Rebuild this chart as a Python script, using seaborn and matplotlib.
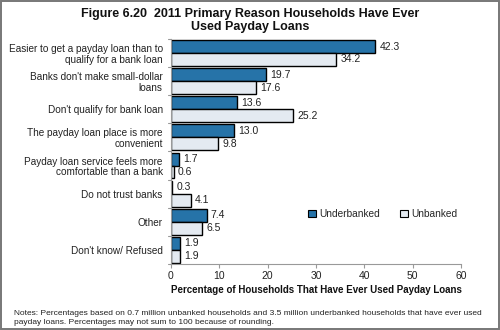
import matplotlib
matplotlib.use("Agg")
import matplotlib.pyplot as plt
import seaborn as sns
import pandas as pd
import numpy as np
from matplotlib.patches import Rectangle

sns.set_theme(style="white")
plt.rcParams["font.family"] = ["Liberation Sans", "DejaVu Sans"]

reasons = [
    "Easier to get a payday loan than to\nqualify for a bank loan",
    "Banks don't make small-dollar\nloans",
    "Don't qualify for bank loan",
    "The payday loan place is more\nconvenient",
    "Payday loan service feels more\ncomfortable than a bank",
    "Do not trust banks",
    "Other",
    "Don't know/ Refused",
]
underbanked = [42.3, 19.7, 13.6, 13.0, 1.7, 0.3, 7.4, 1.9]
unbanked = [34.2, 17.6, 25.2, 9.8, 0.6, 4.1, 6.5, 1.9]
groups = ["Underbanked", "Unbanked"]
colors = ["#2673a8", "#e4eaf1"]

df = pd.DataFrame({
    "reason": reasons * 2,
    "pct": underbanked + unbanked,
    "group": [groups[0]] * len(reasons) + [groups[1]] * len(reasons),
})

fig = plt.figure(figsize=(5.0, 3.3), dpi=100)
ax = fig.add_axes([0.342, 0.20, 0.58, 0.682])

sns.barplot(data=df, y="reason", x="pct", hue="group", order=reasons,
            hue_order=groups, palette=colors, saturation=1, orient="h",
            width=0.92, edgecolor="black", linewidth=1.0, ax=ax, legend=True)

for cont in ax.containers:
    ax.bar_label(cont, fmt="%.1f", padding=3, fontsize=7.5, color="#222222")

ax.set_xlim(0, 60)
ax.set_ylim(len(reasons) - 0.5, -0.5)
ax.set_xticks(np.arange(0, 61, 10))
ax.tick_params(axis="x", labelsize=7.5, length=3, width=0.8, color="#999999",
               direction="out", bottom=True, pad=2, labelcolor="#222222")
ax.set_yticks(np.arange(len(reasons)))
ax.set_yticklabels(reasons, fontsize=7.2, color="#222222", linespacing=1.1)
ax.tick_params(axis="y", length=0, pad=6)
# boundary ticks between categories on the value axis
for b in np.arange(-0.5, len(reasons) + 0.5, 1.0):
    ax.plot([-0.012, 0], [b, b], transform=ax.get_yaxis_transform(),
            color="#999999", lw=0.8, clip_on=False)

for s in ["top", "right"]:
    ax.spines[s].set_visible(False)
for s in ["left", "bottom"]:
    ax.spines[s].set_color("#999999")
    ax.spines[s].set_linewidth(0.8)

ax.set_ylabel("")
ax.set_xlabel("Percentage of Households That Have Ever Used Payday Loans",
              fontsize=7, fontweight="bold", color="#111111", labelpad=3)

leg = ax.legend(loc="upper left", bbox_to_anchor=(0.44, 0.285), ncol=2,
                frameon=False, fontsize=7.3, handlelength=0.8, handleheight=0.8,
                handletextpad=0.3, columnspacing=2.0)
for h in leg.legend_handles:
    h.set_linewidth(0.8)

fig.text(0.5, 0.975, "Figure 6.20  2011 Primary Reason Households Have Ever\nUsed Payday Loans",
         ha="center", va="top", fontsize=9.0, fontweight="bold", color="#111111",
         linespacing=1.05)
fig.text(0.027, 0.062,
         "Notes: Percentages based on 0.7 million unbanked households and 3.5 million underbanked households that have ever used\n"
         "payday loans. Percentages may not sum to 100 because of rounding.",
         ha="left", va="top", fontsize=6.0, color="#222222", linespacing=1.45)

fig.patches.append(Rectangle((0.002, 0.003), 0.996, 0.994, transform=fig.transFigure,
                             fill=False, edgecolor="#777777", linewidth=1.4))

fig.savefig("out.png", dpi=100)
